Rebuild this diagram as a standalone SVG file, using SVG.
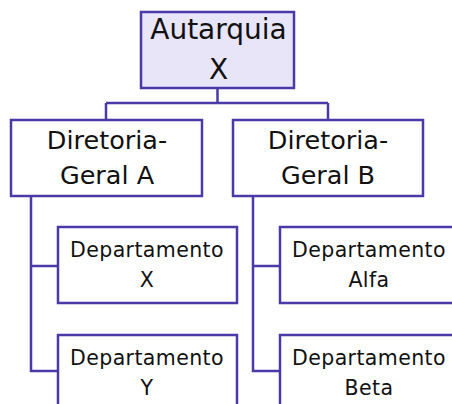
<svg xmlns="http://www.w3.org/2000/svg" width="452" height="404" viewBox="0 0 452 404">
<style>
.box{fill:#ffffff;stroke:#4a3aa8;stroke-width:2.5}
.top{fill:#e7e5f7}
.con{fill:none;stroke:#4a3aa8;stroke-width:2.5}
text{font-family:"DejaVu Sans",Lato,sans-serif;fill:#111111;text-anchor:middle}
.t1{font-size:28px}
.t2{font-size:25.5px}
.t3{font-size:20.5px;letter-spacing:0.4px}
</style>
<rect width="452" height="404" fill="#ffffff"/>
<g id="connectors">
<path class="con" d="M217.5 88V103M106 103H328M106 103V120M328 103V120"/>
<path class="con" d="M31 196V371H58M31 266H58"/>
<path class="con" d="M253 196V371H280M253 266H280"/>
</g>
<g id="autarquia">
<rect class="box top" x="141" y="12" width="153" height="76"/>
<text class="t1" x="218.5" y="39">Autarquia</text>
<text class="t1" x="218.5" y="79">X</text>
</g>
<g id="diretoria-a">
<rect class="box" x="11" y="120" width="191" height="76"/>
<text class="t2" x="107" y="149">Diretoria-</text>
<text class="t2" x="107" y="184">Geral A</text>
</g>
<g id="diretoria-b">
<rect class="box" x="233" y="120" width="190" height="76"/>
<text class="t2" x="328" y="149">Diretoria-</text>
<text class="t2" x="328" y="184">Geral B</text>
</g>
<g id="dept-x">
<rect class="box" x="58" y="227" width="179" height="76"/>
<text class="t3" x="147" y="257">Departamento</text>
<text class="t3" x="147" y="287">X</text>
</g>
<g id="dept-y">
<rect class="box" x="58" y="335" width="179" height="76"/>
<text class="t3" x="147" y="365">Departamento</text>
<text class="t3" x="147" y="395">Y</text>
</g>
<g id="dept-alfa">
<rect class="box" x="280" y="227" width="179" height="76"/>
<text class="t3" x="369" y="257">Departamento</text>
<text class="t3" x="369" y="287">Alfa</text>
</g>
<g id="dept-beta">
<rect class="box" x="280" y="335" width="179" height="76"/>
<text class="t3" x="369" y="365">Departamento</text>
<text class="t3" x="369" y="395">Beta</text>
</g>
</svg>
